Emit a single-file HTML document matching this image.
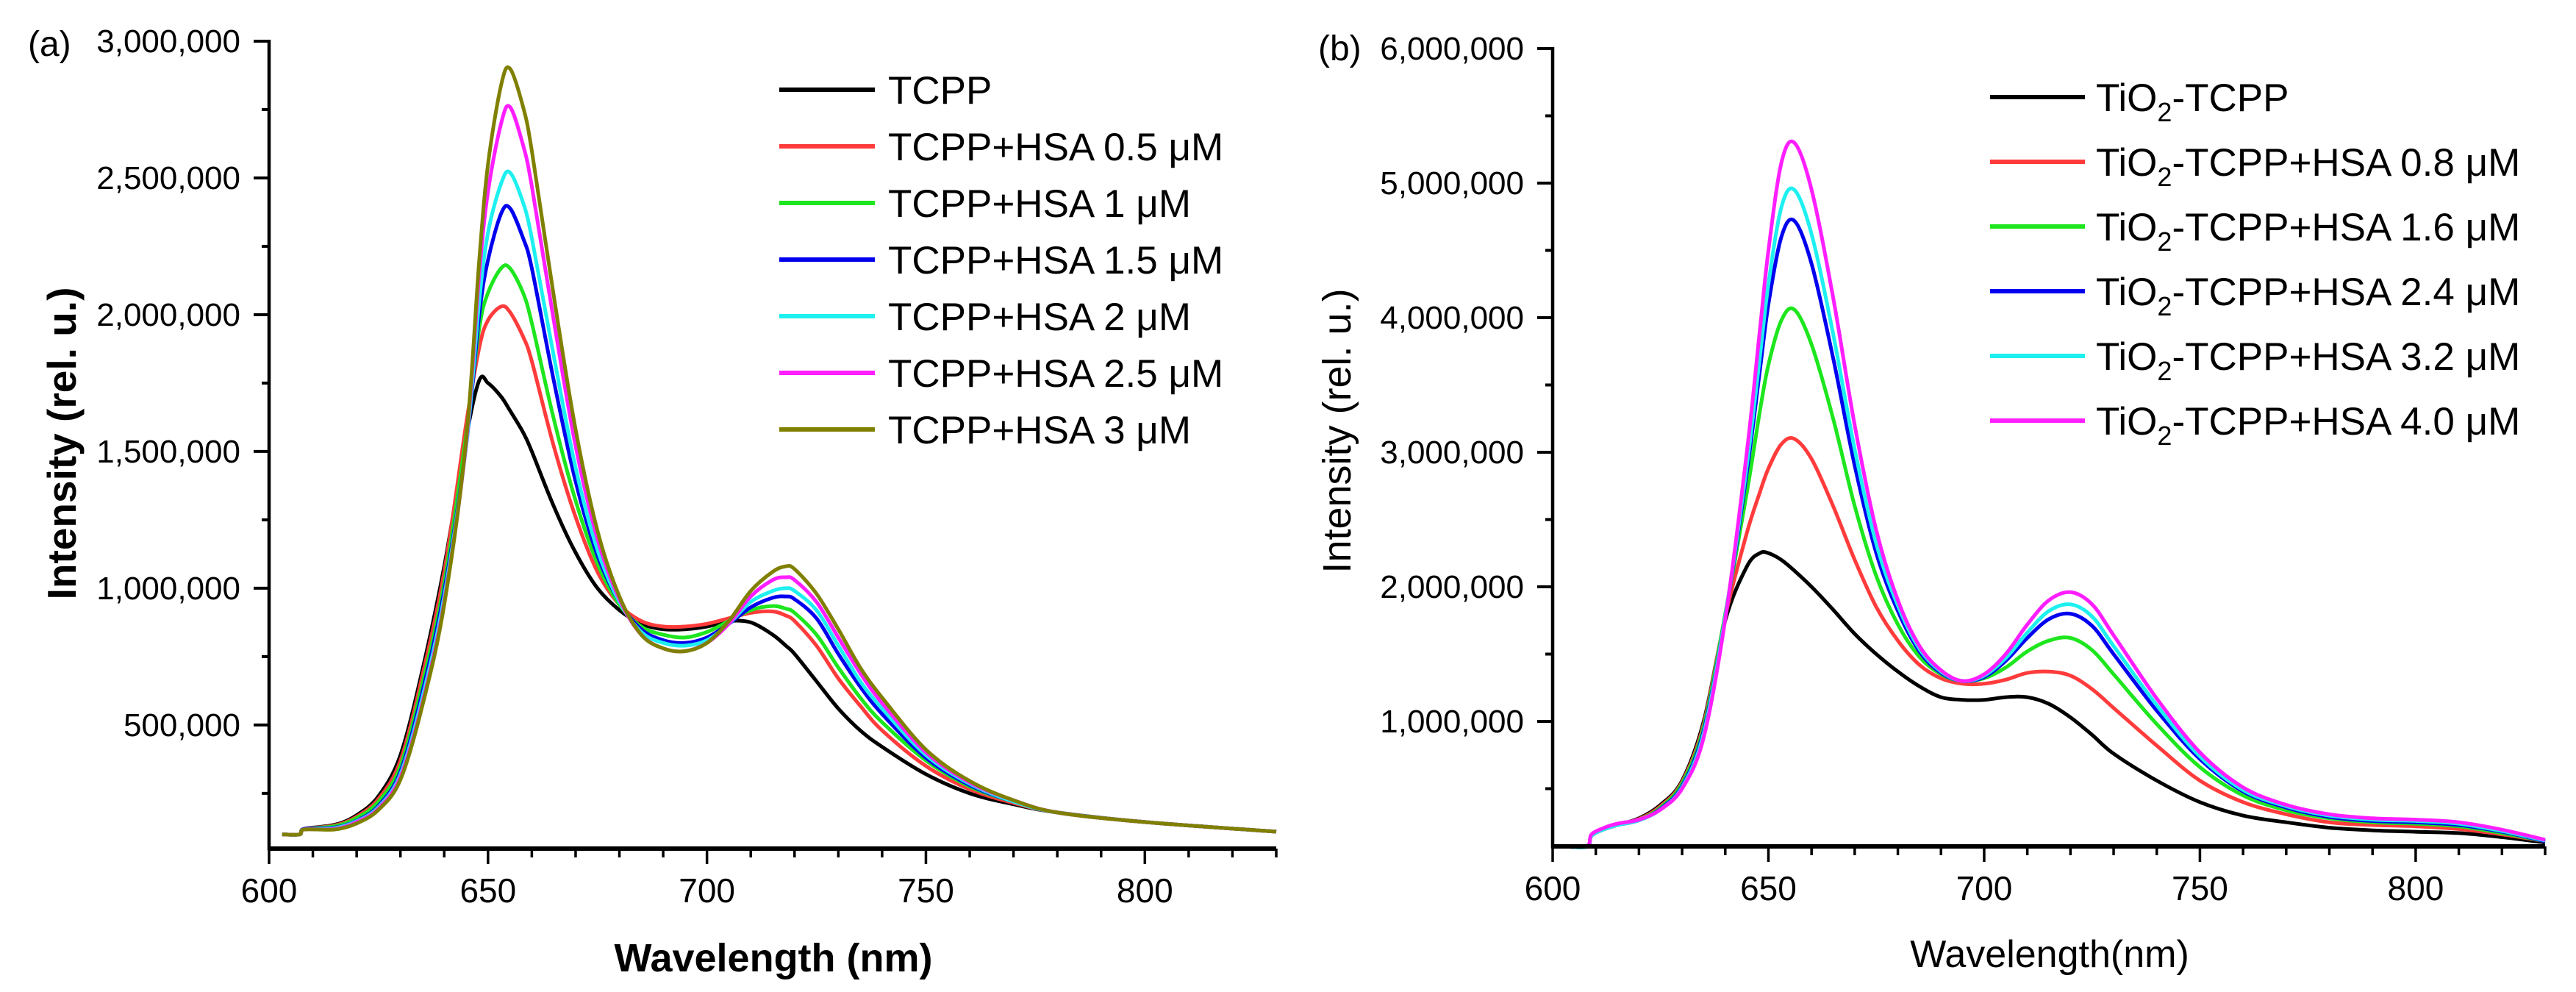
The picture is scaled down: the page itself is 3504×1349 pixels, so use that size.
<!DOCTYPE html>
<html><head><meta charset="utf-8"><style>
html,body{margin:0;padding:0;background:#fff;}
svg{display:block;font-family:"Liberation Sans",Arial,sans-serif;}
</style></head><body>
<svg id="chart" width="3504" height="1349" viewBox="0 0 3504 1349">
<g id="pa"></g>
<g id="pb"></g>
</svg>
<script>
// ---------- Panel (a) data ----------
const wlA = [603,607,608,615,620,625,630,635,640,645,648,650,653,655,658,660,665,670,675,680,685,690,695,700,705,710,715,718,720,725,730,735,740,750,760,770,780,800,830];
const aTCPP = [100,100,120,135,170,240,390,700,1080,1550,1760,1750,1700,1650,1570,1500,1300,1130,1000,920,870,850,850,860,880,875,830,790,760,660,560,480,420,320,250,210,180,145,110];
const aHSA05 = [100,100,120,133,165,230,370,680,1060,1600,1880,1980,2030,2010,1920,1830,1520,1260,1060,940,880,860,860,870,890,910,915,900,880,790,670,570,480,350,265,215,180,145,110];
const aHSA1 = [100,100,120,130,160,220,350,650,1020,1560,1950,2080,2170,2170,2080,1970,1620,1320,1090,940,860,830,820,840,880,920,935,925,910,830,710,600,510,370,275,220,180,145,110];
const aHSA15 = [100,100,120,125,150,205,330,620,990,1520,2000,2200,2370,2390,2280,2170,1760,1390,1120,950,850,810,800,820,870,930,965,970,960,890,760,640,540,380,280,220,180,145,110];
const aHSA2 = [100,100,118,123,148,200,320,600,970,1520,2050,2300,2480,2520,2410,2280,1850,1440,1140,950,840,800,790,810,870,950,990,1000,990,920,790,660,560,390,285,220,180,145,110];
const aHSA25 = [100,100,118,120,145,195,310,580,950,1530,2150,2450,2700,2760,2620,2470,1980,1520,1180,960,830,780,770,800,870,970,1030,1040,1030,950,820,690,580,400,290,225,180,145,110];
const aHSA3 = [100,100,118,118,140,190,300,570,940,1540,2200,2550,2840,2900,2760,2600,2070,1580,1210,970,830,780,770,800,880,990,1060,1080,1070,980,850,710,600,410,295,225,180,145,110];
const aLabels = ["TCPP","TCPP+HSA 0.5 \u03bcM","TCPP+HSA 1 \u03bcM","TCPP+HSA 1.5 \u03bcM","TCPP+HSA 2 \u03bcM","TCPP+HSA 2.5 \u03bcM","TCPP+HSA 3 \u03bcM"];
const aYTicks = [500000,1000000,1500000,2000000,2500000,3000000];
const aXTicks = [600,650,700,750,800];

// ---------- Panel (b) data ----------
const wlB = [603,608,609,612,615,620,625,630,635,640,645,648,650,653,656,660,665,670,675,680,685,690,695,700,705,710,715,720,725,730,740,750,760,770,780,790,800,810,820,830];
const bTiO2 = [70,70,150,200,230,280,380,560,1000,1750,2150,2250,2250,2200,2120,2000,1830,1650,1500,1370,1260,1180,1160,1160,1180,1180,1130,1030,900,760,560,400,300,250,210,190,180,170,140,100];
const bHSA08 = [70,70,150,200,230,275,370,550,980,1780,2400,2700,2880,3060,3100,2950,2600,2200,1850,1600,1420,1320,1280,1280,1310,1360,1370,1340,1240,1100,820,560,400,310,250,230,220,200,160,110];
const bHSA16 = [70,70,150,200,230,270,360,540,960,1800,2700,3300,3650,3980,4060,3800,3250,2600,2080,1720,1480,1350,1300,1320,1400,1520,1600,1620,1530,1350,980,660,450,340,280,250,240,220,170,110];
const bHSA24 = [70,70,150,200,230,265,350,520,930,1780,2850,3600,4100,4600,4720,4400,3700,2900,2250,1820,1520,1360,1300,1330,1450,1620,1760,1800,1710,1500,1080,720,480,360,290,260,250,230,180,110];
const bHSA32 = [70,70,150,200,230,265,345,510,910,1780,2900,3700,4250,4820,4950,4620,3880,3020,2320,1860,1540,1370,1300,1340,1470,1660,1820,1870,1780,1560,1120,740,490,370,300,270,260,240,185,115];
const bHSA40 = [75,75,160,210,240,270,345,500,880,1760,3000,3900,4500,5150,5300,4950,4150,3200,2420,1900,1560,1380,1300,1350,1500,1720,1900,1960,1870,1640,1170,770,510,380,310,280,270,250,195,120];
const bLabels = ["-TCPP","-TCPP+HSA 0.8 \u03bcM","-TCPP+HSA 1.6 \u03bcM","-TCPP+HSA 2.4 \u03bcM","-TCPP+HSA 3.2 \u03bcM","-TCPP+HSA 4.0 \u03bcM"];
const bYTicks = [1000000,2000000,3000000,4000000,5000000,6000000];
const bXTicks = [600,650,700,750,800];

const colA = ["#000000","#ff3b3b","#1ee61e","#0000ee","#1ef0f0","#ff1eff","#808000"];
const colB = ["#000000","#ff3b3b","#1ee61e","#0000ee","#1ef0f0","#ff1eff"];

const NS = "http://www.w3.org/2000/svg";
function mk(parent, tag, attrs, text){
  const el = document.createElementNS(NS, tag);
  for (const k in attrs) el.setAttribute(k, attrs[k]);
  if (text !== undefined) el.textContent = text;
  parent.appendChild(el);
  return el;
}
function fmt(v){ return v.toLocaleString("en-US"); }
function smooth(pts){
  let d = "M" + pts[0][0].toFixed(1) + "," + pts[0][1].toFixed(1);
  for (let i=0;i<pts.length-1;i++){
    const p0 = pts[Math.max(0,i-1)], p1 = pts[i], p2 = pts[i+1], p3 = pts[Math.min(pts.length-1,i+2)];
    const c1x = p1[0]+(p2[0]-p0[0])/6, c1y = p1[1]+(p2[1]-p0[1])/6;
    const c2x = p2[0]-(p3[0]-p1[0])/6, c2y = p2[1]-(p3[1]-p1[1])/6;
    d += " C"+c1x.toFixed(1)+","+c1y.toFixed(1)+" "+c2x.toFixed(1)+","+c2y.toFixed(1)+" "+p2[0].toFixed(1)+","+p2[1].toFixed(1);
  }
  return d;
}

function drawPanel(g, cfg){
  const X = v => cfg.x0 + (v-600)/(830-600)*(cfg.x1-cfg.x0);
  const Y = v => cfg.yBot - (v-cfg.yMin)/(cfg.yMax-cfg.yMin)*(cfg.yBot-cfg.yTop);
  cfg.series.forEach((s,i)=>{
    const pts = cfg.wl.map((w,j)=>[X(w), Y(s[j]*1000)]);
    const p = mk(g,"path",{d:smooth(pts),fill:"none",stroke:cfg.colors[i],"stroke-width":5,"stroke-linejoin":"round"});
    
    
  });
  const ax = mk(g,"line",{x1:cfg.x0,y1:cfg.yTop-2,x2:cfg.x0,y2:cfg.yBot+2,stroke:"#000","stroke-width":4.5});
  
  
  const bx = mk(g,"line",{x1:cfg.x0-2,y1:cfg.yBot,x2:cfg.x1,y2:cfg.yBot,stroke:"#000","stroke-width":6});
  
  
  for (let v=cfg.minorStep; v<=cfg.yMax+1; v+=cfg.minorStep){
    if (v < cfg.yMin) continue;
    const major = cfg.yTicks.indexOf(v) >= 0;
    const t = mk(g,"line",{x1:cfg.x0-(major?21:10),y1:Y(v),x2:cfg.x0,y2:Y(v),stroke:"#000","stroke-width":4});
    
    
  }
  cfg.yTicks.forEach(v=>{
    const t = mk(g,"text",{x:cfg.x0-39,y:Y(v)+15,"text-anchor":"end","font-size":44},fmt(v));
    
    
  });
  for (let v=600; v<=830; v+=10){
    const major = v%50===0;
    const t = mk(g,"line",{x1:X(v),y1:cfg.yBot,x2:X(v),y2:cfg.yBot+(major?21:12),stroke:"#000","stroke-width":3.5});
    
    
  }
  cfg.xTicks.forEach(v=>{
    const t = mk(g,"text",{x:X(v),y:cfg.xLabY,"text-anchor":"middle","font-size":46},String(v));
    
    
  });
}

const pa = document.getElementById("pa");
drawPanel(pa,{x0:366,x1:1736,yTop:56,yBot:1154,yMin:48000,yMax:3000000,minorStep:250000,
  yTicks:aYTicks,xTicks:aXTicks,xLabY:1227,wl:wlA,
  series:[aTCPP,aHSA05,aHSA1,aHSA15,aHSA2,aHSA25,aHSA3],colors:colA});
const pb = document.getElementById("pb");
drawPanel(pb,{x0:2112,x1:3462,yTop:66,yBot:1151,yMin:71000,yMax:6000000,minorStep:500000,
  yTicks:bYTicks,xTicks:bXTicks,xLabY:1224,wl:wlB,
  series:[bTiO2,bHSA08,bHSA16,bHSA24,bHSA32,bHSA40],colors:colB});

let t;
t = mk(pa,"text",{x:38,y:76,"font-size":48},"(a)");
 
t = mk(pb,"text",{x:1793,y:82,"font-size":48},"(b)");
 
t = mk(pa,"text",{x:1052,y:1321,"text-anchor":"middle","font-size":54,"font-weight":"bold"},"Wavelength (nm)");
 
t = mk(pa,"text",{x:0,y:0,"text-anchor":"middle","font-size":55,"font-weight":"bold",transform:"translate(103,603) rotate(-90)"},"Intensity (rel. u.)");
 
t = mk(pb,"text",{x:2788,y:1315,"text-anchor":"middle","font-size":52},"Wavelength(nm)");
 
t = mk(pb,"text",{x:0,y:0,"text-anchor":"middle","font-size":54,transform:"translate(1837,586) rotate(-90)"},"Intensity (rel. u.)");
 

const legA = mk(pa,"g",{});
 
aLabels.forEach((lab,i)=>{
  const y = 122 + i*77;
  const l = mk(legA,"line",{x1:1060,y1:y,x2:1190,y2:y,stroke:colA[i],"stroke-width":6});
   
  const tx = mk(legA,"text",{x:1208,y:y+19,"font-size":53},lab);
   
});
const legB = mk(pb,"g",{});
 
bLabels.forEach((lab,i)=>{
  const y = 132 + i*88;
  const l = mk(legB,"line",{x1:2707,y1:y,x2:2836,y2:y,stroke:colB[i],"stroke-width":6});
   
  const tx = mk(legB,"text",{x:2851,y:y+19,"font-size":53});
   
  mk(tx,"tspan",{},"TiO");
  mk(tx,"tspan",{dy:14,"font-size":36},"2");
  mk(tx,"tspan",{dy:-14},lab);
});
</script>
</body></html>
